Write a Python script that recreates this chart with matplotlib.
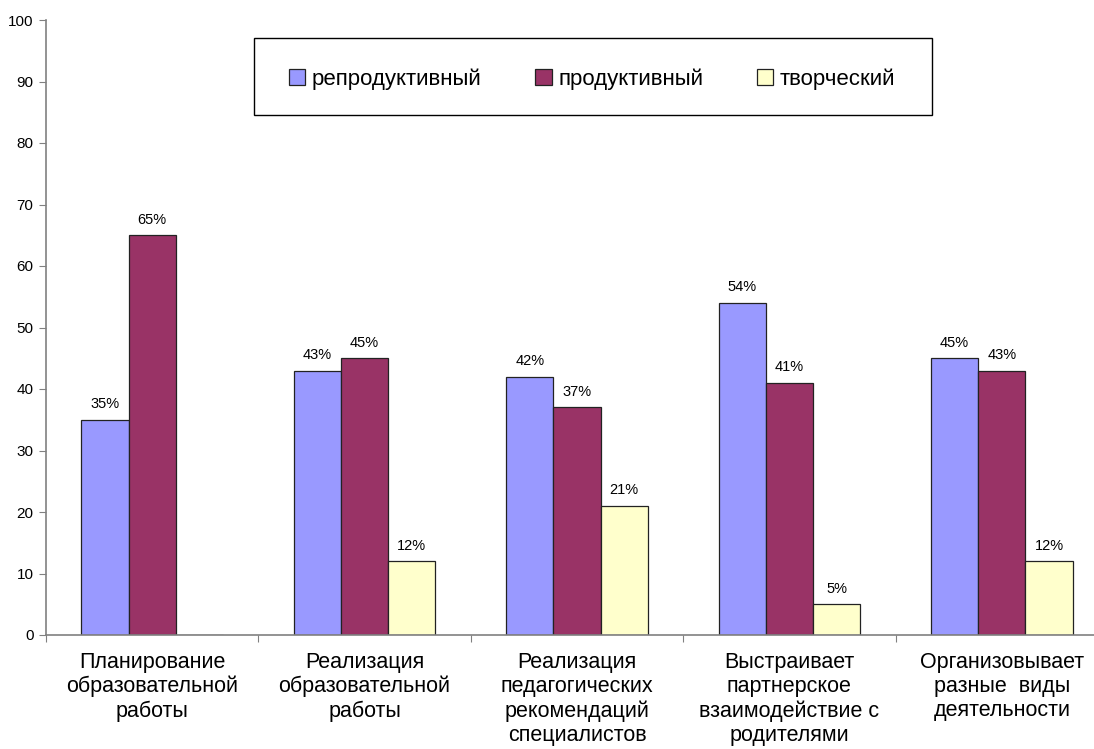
import matplotlib.pyplot as plt
import matplotlib.patches as mpatches
import numpy as np

plt.rcParams['font.family'] = ['Liberation Sans', 'DejaVu Sans']

# Категории и значения серий
categories = ["Планирование\nобразовательной\nработы",
              "Реализация\nобразовательной\nработы",
              "Реализация\nпедагогических\nрекомендаций\nспециалистов",
              "Выстраивает\nпартнерское\nвзаимодействие с\nродителями",
              "Организовывает\nразные  виды\nдеятельности"]
series_names = ["репродуктивный", "продуктивный", "творческий"]
reproductive = [35, 43, 42, 54, 45]
productive = [65, 45, 37, 41, 43]
creative = [0, 12, 21, 5, 12]
colors = ["#9999FF", "#993366", "#FFFFCC"]

fig = plt.figure(figsize=(10.94, 7.49), dpi=100)
ax = fig.add_axes([46 / 1094, 1 - 635 / 749, 1062 / 1094, 615 / 749])

x = np.arange(len(categories))
w = 0.222
for i, (vals, name, c) in enumerate(zip([reproductive, productive, creative], series_names, colors)):
    pos = x + (i - 1) * w
    ax.bar(pos, vals, width=w, color=c, edgecolor="#222222", linewidth=0.9, label=name)
    for p, v in zip(pos, vals):
        if v > 0:
            ax.text(p, v + 1.4, f"{v}%", ha="center", va="bottom", fontsize=10.5)

ax.set_xlim(-0.5, len(categories) - 0.5)
ax.set_ylim(0, 100)
ax.set_yticks(range(0, 101, 10))
ax.set_xticks(np.arange(-0.5, len(categories), 1.0))
ax.set_xticklabels([])
ax.set_xticks(x, minor=True)
ax.set_xticklabels(categories, minor=True, fontsize=15.5, linespacing=1.2)
ax.tick_params(axis="x", which="minor", length=0, pad=12)
ax.tick_params(axis="x", which="major", length=5, color="#808080", direction="out")
ax.tick_params(axis="y", length=5, color="#808080", labelsize=11, pad=4)

for s in ["top", "right"]:
    ax.spines[s].set_visible(False)
for s in ["left", "bottom"]:
    ax.spines[s].set_color("#808080")
    ax.spines[s].set_linewidth(1.2)

# Рамка легенды
fig.patches.append(mpatches.Rectangle((254 / 1094, 1 - 115 / 749), 678 / 1094, 77 / 749,
                                      transform=fig.transFigure, fill=False,
                                      edgecolor="black", linewidth=1.0))
leg = fig.legend(loc="center", ncol=3, bbox_to_anchor=(592 / 1094, 1 - 79 / 749),
                 fontsize=16, handlelength=0.75, handleheight=0.75, handletextpad=0.3,
                 columnspacing=2.4, frameon=False)

fig.savefig("out.png", dpi=100)
